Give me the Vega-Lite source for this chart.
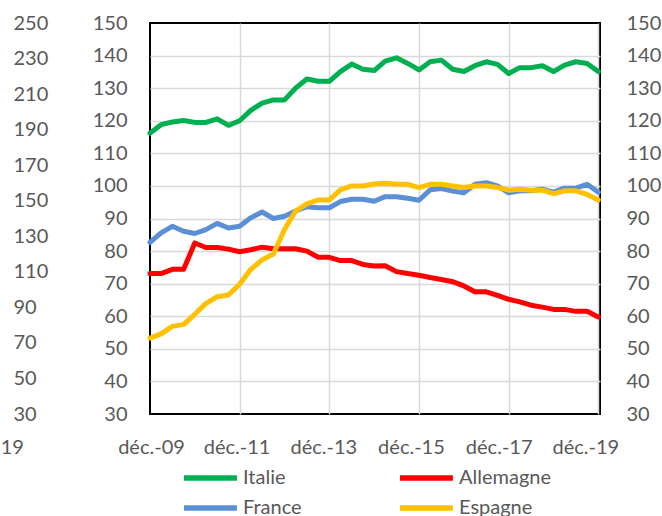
{
  "$schema": "https://vega.github.io/schema/vega-lite/v6.json",
  "autosize": "none",
  "padding": {"left": 150, "top": 23, "right": 62, "bottom": 102},
  "width": 450,
  "height": 391,
  "background": "white",
  "config": {
    "font": "Lato",
    "view": {"stroke": "black", "strokeWidth": 2},
    "axis": {"labelFont": "Lato", "labelFontSize": 20, "labelColor": "#595959", "domain": false, "ticks": false, "title": null, "labelFlush": false},
    "legend": {
      "orient": "none", "legendX": 24, "legendY": 445, "columns": 2, "direction": "horizontal", "title": null,
      "labelFont": "Lato", "labelFontSize": 20, "labelColor": "#595959",
      "symbolType": "M0,0H10", "symbolSize": 112, "symbolStrokeWidth": 5.5,
      "labelOffset": 49, "columnPadding": 87, "rowPadding": 8, "padding": 0
    }
  },
  "data": {"values": [
    {"d": "2009-12-01", "Italie": 116.2, "Allemagne": 73.1, "France": 82.7, "Espagne": 53.3},
    {"d": "2010-03-01", "Italie": 118.8, "Allemagne": 73.1, "France": 85.6, "Espagne": 54.6},
    {"d": "2010-06-01", "Italie": 119.6, "Allemagne": 74.4, "France": 87.6, "Espagne": 56.9},
    {"d": "2010-09-01", "Italie": 120.1, "Allemagne": 74.4, "France": 86.1, "Espagne": 57.5},
    {"d": "2010-12-01", "Italie": 119.5, "Allemagne": 82.5, "France": 85.4, "Espagne": 60.6},
    {"d": "2011-03-01", "Italie": 119.5, "Allemagne": 81.1, "France": 86.6, "Espagne": 63.9},
    {"d": "2011-06-01", "Italie": 120.6, "Allemagne": 81.1, "France": 88.5, "Espagne": 66.0},
    {"d": "2011-09-01", "Italie": 118.6, "Allemagne": 80.6, "France": 87.1, "Espagne": 66.5},
    {"d": "2011-12-01", "Italie": 120.0, "Allemagne": 79.8, "France": 87.6, "Espagne": 69.8},
    {"d": "2012-03-01", "Italie": 123.2, "Allemagne": 80.4, "France": 90.2, "Espagne": 74.4},
    {"d": "2012-06-01", "Italie": 125.4, "Allemagne": 81.2, "France": 92.0, "Espagne": 77.3},
    {"d": "2012-09-01", "Italie": 126.4, "Allemagne": 80.7, "France": 90.0, "Espagne": 79.1},
    {"d": "2012-12-01", "Italie": 126.4, "Allemagne": 80.7, "France": 90.7, "Espagne": 86.6},
    {"d": "2013-03-01", "Italie": 130.0, "Allemagne": 80.7, "France": 92.3, "Espagne": 92.3},
    {"d": "2013-06-01", "Italie": 132.8, "Allemagne": 80.0, "France": 93.6, "Espagne": 94.5},
    {"d": "2013-09-01", "Italie": 132.1, "Allemagne": 78.1, "France": 93.3, "Espagne": 95.7},
    {"d": "2013-12-01", "Italie": 132.1, "Allemagne": 78.1, "France": 93.3, "Espagne": 95.7},
    {"d": "2014-03-01", "Italie": 135.1, "Allemagne": 77.1, "France": 95.2, "Espagne": 98.8},
    {"d": "2014-06-01", "Italie": 137.4, "Allemagne": 77.1, "France": 95.9, "Espagne": 100.0},
    {"d": "2014-09-01", "Italie": 135.8, "Allemagne": 75.9, "France": 95.9, "Espagne": 100.0},
    {"d": "2014-12-01", "Italie": 135.4, "Allemagne": 75.4, "France": 95.3, "Espagne": 100.6},
    {"d": "2015-03-01", "Italie": 138.3, "Allemagne": 75.5, "France": 96.7, "Espagne": 100.8},
    {"d": "2015-06-01", "Italie": 139.3, "Allemagne": 73.7, "France": 96.7, "Espagne": 100.5},
    {"d": "2015-09-01", "Italie": 137.6, "Allemagne": 73.1, "France": 96.2, "Espagne": 100.5},
    {"d": "2015-12-01", "Italie": 135.6, "Allemagne": 72.6, "France": 95.6, "Espagne": 99.5},
    {"d": "2016-03-01", "Italie": 138.1, "Allemagne": 71.9, "France": 98.8, "Espagne": 100.5},
    {"d": "2016-06-01", "Italie": 138.6, "Allemagne": 71.3, "France": 99.2, "Espagne": 100.5},
    {"d": "2016-09-01", "Italie": 135.8, "Allemagne": 70.6, "France": 98.4, "Espagne": 100.0},
    {"d": "2016-12-01", "Italie": 135.1, "Allemagne": 69.3, "France": 97.9, "Espagne": 99.5},
    {"d": "2017-03-01", "Italie": 136.9, "Allemagne": 67.5, "France": 100.5, "Espagne": 100.0},
    {"d": "2017-06-01", "Italie": 138.1, "Allemagne": 67.5, "France": 101.0, "Espagne": 100.0},
    {"d": "2017-09-01", "Italie": 137.3, "Allemagne": 66.4, "France": 100.0, "Espagne": 99.5},
    {"d": "2017-12-01", "Italie": 134.5, "Allemagne": 65.2, "France": 97.9, "Espagne": 98.7},
    {"d": "2018-03-01", "Italie": 136.3, "Allemagne": 64.4, "France": 98.5, "Espagne": 99.0},
    {"d": "2018-06-01", "Italie": 136.3, "Allemagne": 63.4, "France": 98.5, "Espagne": 98.7},
    {"d": "2018-09-01", "Italie": 136.9, "Allemagne": 62.8, "France": 99.0, "Espagne": 98.7},
    {"d": "2018-12-01", "Italie": 135.1, "Allemagne": 62.1, "France": 98.1, "Espagne": 97.6},
    {"d": "2019-03-01", "Italie": 137.1, "Allemagne": 62.1, "France": 99.3, "Espagne": 98.5},
    {"d": "2019-06-01", "Italie": 138.1, "Allemagne": 61.5, "France": 99.3, "Espagne": 98.5},
    {"d": "2019-09-01", "Italie": 137.6, "Allemagne": 61.5, "France": 100.5, "Espagne": 97.4},
    {"d": "2019-12-01", "Italie": 135.1, "Allemagne": 59.8, "France": 98.1, "Espagne": 95.7}
  ]},
  "transform": [{"fold": ["Italie", "Allemagne", "France", "Espagne"], "as": ["pays", "valeur"]}],
  "layer": [
    {
      "mark": {"type": "line", "strokeWidth": 5, "strokeJoin": "round", "strokeCap": "round"},
      "encoding": {
        "x": {
          "field": "d", "type": "temporal",
          "scale": {"type": "utc", "domain": [{"year": 2009, "month": 12, "date": 1, "utc": true}, {"year": 2019, "month": 12, "date": 15, "utc": true}]},
          "axis": {
            "orient": "bottom",
            "values": [
              {"year": 2009, "month": 12, "date": 1, "utc": true},
              {"year": 2011, "month": 12, "date": 1, "utc": true},
              {"year": 2013, "month": 12, "date": 1, "utc": true},
              {"year": 2015, "month": 12, "date": 1, "utc": true},
              {"year": 2017, "month": 12, "date": 1, "utc": true},
              {"year": 2019, "month": 12, "date": 1, "utc": true}
            ],
            "labelExpr": "'déc.-' + utcFormat(datum.value, '%y')",
            "grid": true,
            "gridColor": {"condition": {"test": "utcyear(datum.value) == 2009", "value": "transparent"}, "value": "#D9D9D9"},
            "gridWidth": 1.5,
            "labelPadding": 23,
            "labelOffset": {"condition": [
              {"test": "utcyear(datum.value) == 2009", "value": 1},
              {"test": "utcyear(datum.value) == 2011", "value": -3},
              {"test": "utcyear(datum.value) == 2013", "value": -6},
              {"test": "utcyear(datum.value) == 2015", "value": -8},
              {"test": "utcyear(datum.value) == 2017", "value": -10}
            ], "value": -13}
          }
        },
        "y": {
          "field": "valeur", "type": "quantitative",
          "scale": {"domain": [30, 150], "nice": false, "zero": false},
          "axis": {
            "orient": "left",
            "values": [30, 40, 50, 60, 70, 80, 90, 100, 110, 120, 130, 140, 150],
            "grid": true,
            "gridColor": {"condition": {"test": "datum.value == 30 || datum.value == 150", "value": "transparent"}, "value": "#D9D9D9"},
            "gridWidth": 1.5,
            "labelPadding": 23
          }
        },
        "color": {
          "field": "pays", "type": "nominal",
          "scale": {"domain": ["Italie", "Allemagne", "France", "Espagne"], "range": ["#00B050", "#FF0000", "#5B8FD6", "#FFC000"]}
        },
        "order": {"field": "d", "type": "temporal"}
      }
    },
    {
      "mark": {"type": "point", "opacity": 0},
      "encoding": {
        "x": {
          "field": "valeur", "type": "quantitative",
          "scale": {"domain": [-300, 450], "range": [-300, 450], "nice": false, "zero": false},
          "axis": {"orient": "bottom", "values": [-160], "labelExpr": "'déc.-19'", "grid": false, "labelPadding": 23}
        },
        "y": {
          "field": "valeur", "type": "quantitative",
          "scale": {"domain": [30, 250], "nice": false, "zero": false},
          "axis": {"orient": "left", "values": [30, 50, 70, 90, 110, 130, 150, 170, 190, 210, 230, 250], "grid": false, "labelAlign": "left", "labelPadding": 137}
        }
      }
    },
    {
      "mark": {"type": "point", "opacity": 0},
      "encoding": {
        "y": {
          "field": "valeur", "type": "quantitative",
          "scale": {"domain": [30, 150], "nice": false, "zero": false},
          "axis": {"orient": "right", "values": [30, 40, 50, 60, 70, 80, 90, 100, 110, 120, 130, 140, 150], "grid": false, "labelPadding": 26}
        }
      }
    }
  ],
  "resolve": {"scale": {"y": "independent", "x": "independent"}}
}
